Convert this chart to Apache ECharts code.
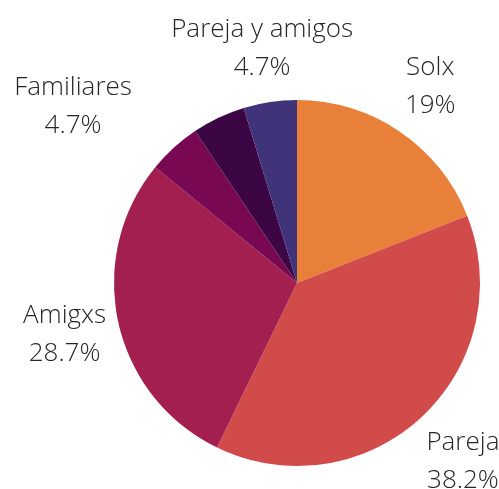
<!DOCTYPE html>
<html>
<head>
<meta charset="utf-8">
<script src="https://cdn.jsdelivr.net/npm/echarts@6/dist/echarts.min.js"></script>
<style>
  html, body { margin: 0; padding: 0; background: #fff; }
  #chart { width: 499px; height: 489px; }
</style>
</head>
<body>
<div id="chart"></div>
<script>
var names = ['Solx', 'Pareja', 'Amigxs', 'Familiares', 'Otros', 'Pareja y amigos']
var values = [19, 38.2, 28.7, 4.7, 4.7, 4.7]
var colors = ['#E8803A', '#D14B4B', '#A31F50', '#780852', '#3C0543', '#41337A']
var showLabel = [true, true, true, true, false, true]

// pie geometry (px)
var CX = 297, CY = 283, R = 183, GAP = 8
// small nudges for labels that were pushed aside (deg, px outward)
var labelNudge = [0, 0, 0, -9.5, 0, 0]
var labelPush = [0, 0, 0, 24, 0, 5]

var total = values.reduce(function (a, b) { return a + b }, 0)
var cum = []
values.reduce(function (acc, v, i) { cum[i] = acc; return acc + v }, 0)

function placeLabel(params) {
  var i = params.dataIndex
  var w = params.labelRect.width
  var h = params.labelRect.height
  var ang = (cum[i] + values[i] / 2) / total * Math.PI * 2 + labelNudge[i] * Math.PI / 180
  var ux = Math.sin(ang), uy = -Math.cos(ang)
  var d = R, cx, cy
  for (; d < R + 300; d += 0.5) {
    cx = CX + ux * d
    cy = CY + uy * d
    var nx = Math.max(cx - w / 2, Math.min(CX, cx + w / 2))
    var ny = Math.max(cy - h / 2, Math.min(CY, cy + h / 2))
    if (Math.sqrt((nx - CX) * (nx - CX) + (ny - CY) * (ny - CY)) >= R + GAP) break
  }
  d += labelPush[i]
  return { x: CX + ux * d, y: CY + uy * d, align: 'center', verticalAlign: 'middle' }
}

var myChart = echarts.init(document.getElementById('chart'))
var data = names.map(function (n, i) {
  return {
    name: n,
    value: values[i],
    itemStyle: { color: colors[i] },
    label: { show: showLabel[i] }
  }
})
var options = {
  animation: false,
  series: [
    {
      type: 'pie',
      center: [CX, CY],
      radius: R,
      startAngle: 90,
      clockwise: true,
      avoidLabelOverlap: false,
      data: data,
      itemStyle: { borderWidth: 0 },
      label: {
        position: 'outside',
        formatter: '{b}\n{c}%',
        fontFamily: 'Open Sans',
        fontWeight: 300,
        fontSize: 26,
        lineHeight: 38,
        color: '#262626',
        align: 'center'
      },
      labelLine: { show: false },
      labelLayout: placeLabel
    }
  ]
}
myChart.setOption(options)
</script>
</body>
</html>
